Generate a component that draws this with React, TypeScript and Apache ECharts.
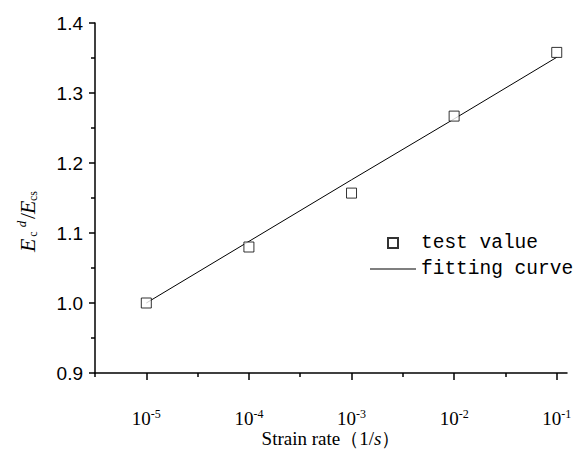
import React, { useEffect, useRef } from "react";
import * as echarts from "echarts";

// log10 of strain rate (1/s)
const rateExponents = [-5, -4, -3, -2, -1];
const testValues = [1.0, 1.08, 1.157, 1.267, 1.358];
const fitValues = [1.0, 1.088, 1.176, 1.263, 1.351];
const majorTicks = [-5, -4, -3, -2, -1];
const minorTicks = [-5.5, -4.5, -3.5, -2.5, -1.5];
const seriesNames = ["test value", "fitting curve"];

const serif = "'Liberation Serif', 'Times New Roman', serif";

export default function App() {
  const ref = useRef<HTMLDivElement>(null);
  useEffect(() => {
    if (!ref.current) return;
    const chart = echarts.init(ref.current, undefined, { renderer: "svg" });
    const axisLineStyle = { color: "#000", width: 1.5 };
    const gx = 27;
    const gy = 221;
    chart.setOption({
      animation: false,
      backgroundColor: "#fff",
      grid: { left: 95, right: 12, top: 23, bottom: 76, containLabel: false, outerBoundsMode: "none" },
      legend: {
        orient: "vertical",
        left: 365,
        top: 228,
        itemWidth: 46,
        itemHeight: 10,
        itemGap: 6,
        symbolKeepAspect: true,
        data: [
          { name: seriesNames[0], icon: "path://M0,0H10V10H0Z" },
          { name: seriesNames[1], icon: "path://M0,0H50V1H0Z" },
        ],
        textStyle: { fontFamily: "'Liberation Mono', monospace", fontSize: 19.5, color: "#000" },
      },
      xAxis: [
        {
          type: "value",
          min: -5.5,
          max: -0.9,
          position: "bottom",
          splitLine: { show: false },
          axisLine: { show: true, onZero: false, lineStyle: axisLineStyle },
          axisTick: { show: true, length: 7, customValues: majorTicks, lineStyle: axisLineStyle },
          minorTick: { show: false },
          axisLabel: {
            customValues: majorTicks,
            margin: 35,
            formatter: (v: number) => `{b|10}{s|${v}}`,
            rich: {
              b: { fontFamily: serif, fontSize: 19, color: "#000", lineHeight: 20, verticalAlign: "bottom" },
              s: { fontFamily: serif, fontSize: 12, color: "#000", lineHeight: 20, verticalAlign: "top", padding: [0, 0, 8, 0] },
            },
          },
          name: "{n|Strain rate（1/}{i|s}{n|）}",
          nameLocation: "middle",
          nameGap: 56,
          nameMoveOverlap: false,
          nameTextStyle: {
            verticalAlign: "top",
            rich: {
              n: { fontFamily: serif, fontSize: 19, color: "#000", lineHeight: 19 },
              i: { fontFamily: serif, fontSize: 19, fontStyle: "italic", color: "#000", lineHeight: 19 },
            },
          },
        },
        {
          type: "value",
          min: -5.5,
          max: -0.9,
          position: "bottom",
          splitLine: { show: false },
          axisLine: { show: false, onZero: false },
          axisTick: { show: true, length: 4, customValues: minorTicks, lineStyle: axisLineStyle },
          axisLabel: { show: false },
        },
      ],
      yAxis: {
        type: "value",
        min: 0.9,
        max: 1.4,
        interval: 0.1,
        splitLine: { show: false },
        axisLine: { show: true, lineStyle: axisLineStyle },
        axisTick: { show: true, length: 6, lineStyle: axisLineStyle },
        minorTick: { show: true, splitNumber: 2, length: 4, lineStyle: axisLineStyle },
        axisLabel: {
          margin: 12,
          color: "#000",
          fontFamily: "'Liberation Sans', Arial, sans-serif",
          fontSize: 19,
          formatter: (v: number) => v.toFixed(1),
        },
      },
      graphic: [
        {
          type: "group",
          x: gx,
          y: gy,
          rotation: Math.PI / 2,
          children: [
            { type: "text", x: -31, y: 0, style: { text: "E", fontFamily: serif, fontStyle: "italic", fontSize: 22, fill: "#000", textAlign: "left", textVerticalAlign: "middle" } },
            { type: "text", x: -13, y: 6, style: { text: "c", fontFamily: serif, fontSize: 12, fill: "#000", textAlign: "center", textVerticalAlign: "middle" } },
            { type: "text", x: -3, y: -6, style: { text: "d", fontFamily: serif, fontStyle: "italic", fontSize: 13, fill: "#000", textAlign: "center", textVerticalAlign: "middle" } },
            { type: "text", x: 5, y: 0, style: { text: "/", fontFamily: serif, fontSize: 22, fill: "#000", textAlign: "center", textVerticalAlign: "middle" } },
            { type: "text", x: 7, y: 0, style: { text: "E", fontFamily: serif, fontStyle: "italic", fontSize: 22, fill: "#000", textAlign: "left", textVerticalAlign: "middle" } },
            { type: "text", x: 25, y: 6, style: { text: "cs", fontFamily: serif, fontSize: 12, fill: "#000", textAlign: "center", textVerticalAlign: "middle" } },
          ],
        },
      ],
      series: [
        {
          name: seriesNames[1],
          type: "line",
          xAxisIndex: 0,
          data: rateExponents.map((x, i) => [x, fitValues[i]]),
          showSymbol: false,
          symbol: "none",
          lineStyle: { color: "#000", width: 1 },
          itemStyle: { color: "#000" },
          z: 2,
        },
        {
          name: seriesNames[0],
          type: "scatter",
          xAxisIndex: 0,
          data: rateExponents.map((x, i) => [x, testValues[i]]),
          symbol: "rect",
          symbolSize: 10,
          itemStyle: { color: "#fff", borderColor: "#000", borderWidth: 1 },
          z: 3,
        },
      ],
    });
    return () => chart.dispose();
  }, []);
  return (
    <div
      ref={ref}
      style={{ position: "fixed", left: 0, top: 0, width: 579, height: 449, background: "#fff" }}
    />
  );
}
